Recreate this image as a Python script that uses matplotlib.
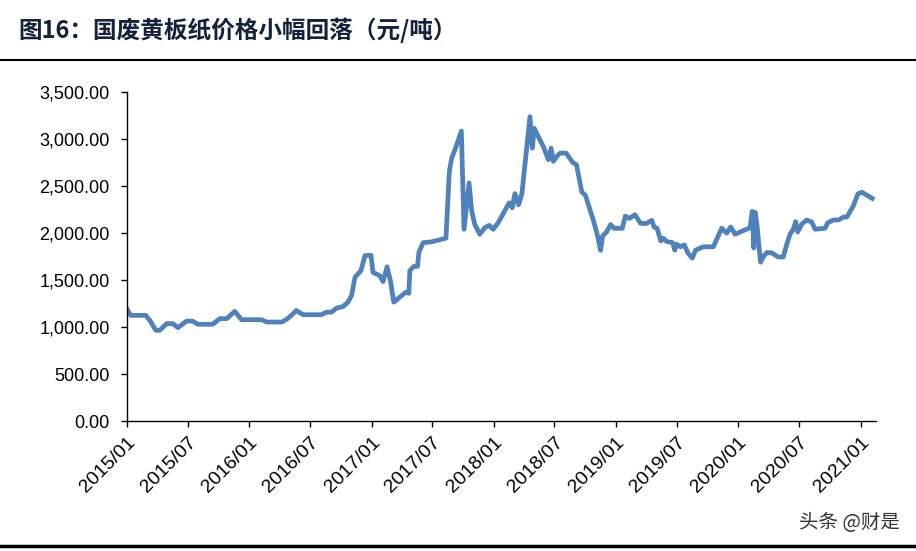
import pandas as pd
import matplotlib.pyplot as plt
from matplotlib.ticker import FuncFormatter

plt.rcParams['font.family'] = ['Liberation Sans', 'Noto Sans CJK SC', 'DejaVu Sans']

dates = [
    '2015-01-01', '2015-01-12', '2015-02-26', '2015-03-10', '2015-03-28', '2015-04-09',
    '2015-04-29', '2015-05-18', '2015-06-02', '2015-06-28', '2015-07-16', '2015-07-31',
    '2015-09-14', '2015-10-05', '2015-10-26', '2015-11-19', '2015-12-09', '2016-02-07',
    '2016-02-22', '2016-04-07', '2016-04-22', '2016-05-06', '2016-05-21', '2016-06-10',
    '2016-08-04', '2016-08-19', '2016-09-03', '2016-09-18', '2016-10-08', '2016-10-22',
    '2016-11-02', '2016-11-12', '2016-11-30', '2016-12-12', '2016-12-30', '2017-01-05',
    '2017-01-25', '2017-02-04', '2017-02-16', '2017-02-26', '2017-03-08', '2017-03-28',
    '2017-04-13', '2017-04-22', '2017-04-25', '2017-05-07', '2017-05-18', '2017-05-22',
    '2017-06-04', '2017-06-29', '2017-08-11', '2017-08-21', '2017-08-28', '2017-09-07',
    '2017-09-26', '2017-10-04', '2017-10-19', '2017-10-27', '2017-11-05', '2017-11-20',
    '2017-12-05', '2017-12-18', '2017-12-30', '2018-01-14', '2018-02-16', '2018-02-25',
    '2018-03-05', '2018-03-16', '2018-03-26', '2018-04-19', '2018-04-26', '2018-05-02',
    '2018-05-09', '2018-05-29', '2018-06-13', '2018-06-21', '2018-06-28', '2018-07-08',
    '2018-07-18', '2018-08-05', '2018-08-25', '2018-09-05', '2018-09-21', '2018-10-02',
    '2018-10-25', '2018-11-06', '2018-11-16', '2018-11-22', '2018-12-04', '2018-12-16',
    '2018-12-26', '2019-01-20', '2019-01-29', '2019-02-10', '2019-02-27', '2019-03-15',
    '2019-04-01', '2019-04-18', '2019-04-25', '2019-05-04', '2019-05-15', '2019-05-22',
    '2019-06-02', '2019-06-19', '2019-06-26', '2019-07-01', '2019-07-13', '2019-07-24',
    '2019-08-05', '2019-08-17', '2019-08-27', '2019-09-19', '2019-10-19', '2019-11-13',
    '2019-11-28', '2019-12-10', '2019-12-23', '2020-02-06', '2020-02-12', '2020-02-17',
    '2020-02-21', '2020-02-26', '2020-03-08', '2020-03-17', '2020-03-27', '2020-04-10',
    '2020-04-30', '2020-05-15', '2020-05-25', '2020-06-04', '2020-06-14', '2020-06-21',
    '2020-06-27', '2020-07-09', '2020-07-24', '2020-08-08', '2020-08-18', '2020-09-17',
    '2020-09-25', '2020-10-12', '2020-10-27', '2020-11-11', '2020-11-21', '2020-12-10',
    '2020-12-24', '2021-01-05', '2021-02-05',
]

price = [
    1190, 1124, 1124, 1071, 965, 965,
    1036, 1036, 993, 1063, 1063, 1029,
    1029, 1089, 1089, 1166, 1078, 1078,
    1053, 1053, 1082, 1124, 1176, 1131,
    1131, 1158, 1158, 1201, 1219, 1264,
    1335, 1528, 1600, 1760, 1763, 1581,
    1546, 1483, 1641, 1494, 1264, 1324,
    1370, 1359, 1599, 1645, 1645, 1793,
    1898, 1906, 1945, 2650, 2797, 2886,
    3085, 2040, 2533, 2233, 2093, 1987,
    2057, 2082, 2040, 2110, 2321, 2268,
    2420, 2300, 2420, 3238, 2903, 3114,
    3061, 2920, 2780, 2903, 2762, 2815,
    2850, 2850, 2750, 2727, 2435, 2400,
    2140, 1987, 1815, 1969, 2010, 2090,
    2050, 2050, 2181, 2155, 2195, 2105,
    2100, 2135, 2064, 2050, 1916, 1945,
    1909, 1898, 1818, 1881, 1853, 1874,
    1782, 1733, 1818, 1853, 1853, 2051,
    1998, 2064, 1987, 2057, 2230, 1840,
    2220, 2100, 1690, 1750, 1793, 1790,
    1745, 1745, 1874, 1987, 2040, 2121,
    2011, 2093, 2139, 2117, 2040, 2051,
    2110, 2139, 2139, 2170, 2170, 2286,
    2417, 2434, 2368,
]

tick_dates = ['2015-01-01', '2015-07-01', '2016-01-01', '2016-07-01', '2017-01-01',
              '2017-07-01', '2018-01-01', '2018-07-01', '2019-01-01', '2019-07-01',
              '2020-01-01', '2020-07-01', '2021-01-01']
tick_labels = ['2015/01', '2015/07', '2016/01', '2016/07', '2017/01', '2017/07', '2018/01',
               '2018/07', '2019/01', '2019/07', '2020/01', '2020/07', '2021/01']

title = '图16：国废黄板纸价格小幅回落（元/吨）'

x = pd.to_datetime(dates)

fig = plt.figure(figsize=(9.16, 5.51), dpi=100)
ax = fig.add_axes([0.1387, 0.2359, 0.8176, 0.5971])

ax.plot(x, price, color='#4F81BD', linewidth=3.4, solid_joinstyle='round')

ax.set_ylim(0, 3500)
ax.set_yticks(range(0, 3501, 500))
ax.yaxis.set_major_formatter(FuncFormatter(lambda v, p: f'{v:,.2f}'))

ax.set_xlim(pd.Timestamp('2015-01-01'), pd.Timestamp('2021-02-16'))
ax.set_xticks(pd.to_datetime(tick_dates))
ax.set_xticklabels(tick_labels, rotation=45, ha='right', rotation_mode='anchor')

ax.spines['top'].set_visible(False)
ax.spines['right'].set_visible(False)
for s in ['left', 'bottom']:
    ax.spines[s].set_linewidth(1.0)
    ax.spines[s].set_color('black')
ax.tick_params(axis='both', direction='out', length=4.5, width=1, colors='black')
ax.tick_params(axis='y', labelsize=13, pad=8)
ax.tick_params(axis='x', labelsize=14, pad=5)

fig.text(0.02, 0.945, title, fontsize=17, fontweight='bold', color='#14213d',
         family=['Noto Sans CJK SC', 'DejaVu Sans'], va='center', ha='left')

fig.add_artist(plt.Line2D([0, 1], [1 - 59.5 / 551, 1 - 59.5 / 551], color='black', linewidth=1.5))
fig.add_artist(plt.Line2D([0, 1], [1 - 546 / 551, 1 - 546 / 551], color='black', linewidth=2.5))

fig.text(0.982, 0.052, '头条 @财是', fontsize=14, color='#333333',
         family=['Noto Sans CJK SC', 'DejaVu Sans'], ha='right', va='center')

fig.savefig('out.png', dpi=100)
